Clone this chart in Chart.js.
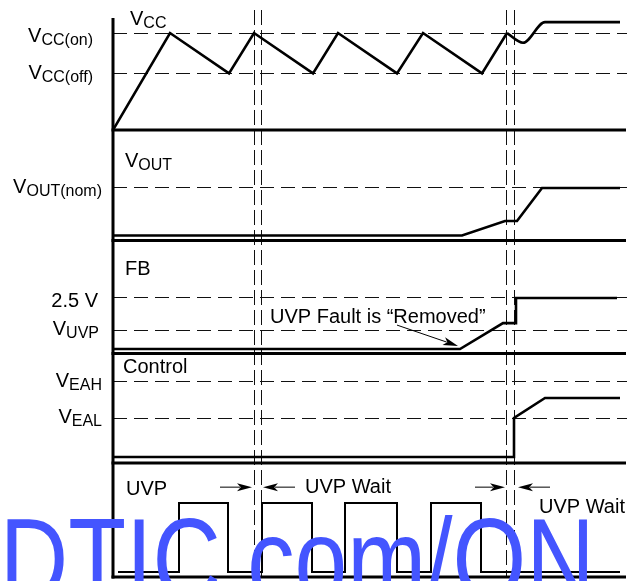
<!DOCTYPE html>
<html><head><meta charset="utf-8">
<script src="https://cdn.jsdelivr.net/npm/chart.js@4.4.1/dist/chart.umd.min.js"></script>
<style>html,body{margin:0;padding:0;background:#fff;}canvas{display:block;}</style>
</head><body>
<canvas id="c" width="631" height="581"></canvas>
<script>
// ===== DATA (time in arbitrary units, levels in each panel's own units) =====
const boundaryTimes = [14.1, 14.8, 39.4, 40.1];

const vccTime  = [0, 5.7, 11.6, 14.1, 20.0, 22.5, 28.4, 31.0, 36.9, 39.4];
const vccLevel = [0, 12, 7, 12, 7, 12, 7, 12, 7, 12];
const vccRecoveryTime  = [39.4, 41.0, 43.2, 50.7];
const vccRecoveryLevel = [12, 10.8, 13.35, 13.35];
const vccThresholds = [12, 7];
const vccThresholdNames = [['V', 'CC(on)'], ['V', 'CC(off)']];

const voutTime  = [0, 34.9, 39.2, 40.4, 42.9, 50.7];
const voutLevel = [0.48, 0.48, 1.86, 1.86, 5, 5];
const voutThresholds = [5];
const voutThresholdNames = [['V', 'OUT(nom)']];

const fbTime  = [0, 34.7, 39.0, 40.3, 40.3, 50.4];
const fbLevel = [0.2, 0.2, 1.37, 1.37, 2.5, 2.5];
const fbThresholds = [2.5, 1.05];
const fbThresholdNames = [['2.5 V', ''], ['V', 'UVP']];

const ctrlTime  = [0, 40.1, 40.1, 43.2, 50.7];
const ctrlLevel = [0.3, 0.3, 2.25, 3.25, 3.25];
const ctrlThresholds = [4.1, 2.25];
const ctrlThresholdNames = [['V', 'EAH'], ['V', 'EAL']];

const uvpTime  = [0.5, 6.6, 6.6, 11.5, 11.5, 14.9, 14.9, 19.9, 19.9, 23.2, 23.2, 28.4, 28.4, 31.8, 31.8, 36.8, 36.8, 50.7];
const uvpLevel = [0, 0, 1, 1, 0, 0, 1, 1, 0, 0, 1, 1, 0, 0, 1, 1, 0, 0];

const panelTitles = [['V', 'CC'], ['V', 'OUT'], ['FB', ''], ['Control', ''], ['UVP', '']];
const annotationText = 'UVP Fault is \u201CRemoved\u201D';
const waitLabel = 'UVP Wait';
const watermarkText = 'www.BDTIC.com/ON';

// annotation anchor points (time, level) in their panels
const fbNote = { t: 15.7, v: 1.37, from: [28.4, 1.28], to: [34.5, 0.34] };
const waitArrows = [[10.7, 13.9], [18.2, 15.0], [36.2, 39.2], [43.7, 40.5]];
const waitArrowLevel = 1.23;
const waitLabelPos = [[19.2, 1.145], [42.6, 0.855]];

// ===== STYLE / LAYOUT =====
const MAIN_FONT = '20px "Liberation Sans", Arial, sans-serif';
const SUB_FONT = '16px "Liberation Sans", Arial, sans-serif';
const SUB_DROP = 3;
const WM = { size: 117, squeeze: 0.81, stemX: 135, baseline: 600, color: '#4455ff' };

const panels = [
  { id: 'yVcc', min: 0, max: 14.85, h: 120, thr: vccThresholds, names: vccThresholdNames, right: [93, 93], dy: [8.5, 6], title: [1.7, 13.0] },
  { id: 'yVout', min: 0, max: 10.52, h: 110.5, thr: voutThresholds, names: voutThresholdNames, right: [102], dy: [5], title: [1.2, 7.0] },
  { id: 'yFb', min: 0, max: 5.09, h: 113, thr: fbThresholds, names: fbThresholdNames, right: [98, 99], dy: [9, 5], title: [1.2, 3.54] },
  { id: 'yCtrl', min: 0, max: 5.475, h: 109.5, thr: ctrlThresholds, names: ctrlThresholdNames, right: [102, 102], dy: [6, 5], title: [1.0, 4.5] },
  { id: 'yUvp', min: -0.072, max: 1.58, h: 114, thr: [], names: [], right: [], dy: [], title: [1.3, 1.12] }
];
const AXIS_TOP_VCC = 13.86; // left axis starts at this VCC level

function pts(ts, vs) { return ts.map((t, i) => ({ x: t, y: vs[i] })); }

const baseDs = { borderColor: '#000', pointRadius: 0, fill: false, tension: 0, borderWidth: 2.6, borderJoinStyle: 'miter', borderCapStyle: 'butt' };
const datasets = [
  Object.assign({}, baseDs, { data: pts(vccTime, vccLevel), yAxisID: 'yVcc' }),
  Object.assign({}, baseDs, { data: pts(vccRecoveryTime, vccRecoveryLevel), yAxisID: 'yVcc', cubicInterpolationMode: 'monotone' }),
  Object.assign({}, baseDs, { data: pts(voutTime, voutLevel), yAxisID: 'yVout' }),
  Object.assign({}, baseDs, { data: pts(fbTime, fbLevel), yAxisID: 'yFb' }),
  Object.assign({}, baseDs, { data: pts(ctrlTime, ctrlLevel), yAxisID: 'yCtrl' }),
  Object.assign({}, baseDs, { data: pts(uvpTime, uvpLevel), yAxisID: 'yUvp', borderWidth: 2 })
];

const scales = {
  x: {
    type: 'linear', position: 'bottom', min: 0, max: 51.4,
    afterBuildTicks: s => { s.ticks = boundaryTimes.map(v => ({ value: v })); },
    ticks: { display: false },
    grid: { color: '#111', lineWidth: 1, drawTicks: false },
    border: { display: false, dash: [15, 5] }
  }
};
panels.forEach((p, i) => {
  scales[p.id] = {
    type: 'linear', position: 'left', stack: 'timing', stackWeight: p.h, weight: 10 - i,
    min: p.min, max: p.max, offset: false,
    afterBuildTicks: s => { s.ticks = p.thr.map(v => ({ value: v })); },
    ticks: { display: false },
    grid: { display: p.thr.length > 0, color: '#111', lineWidth: 1, drawTicks: false },
    border: { display: false, dash: [14, 7] }
  };
});

function drawSub(ctx, main, sub, x, y, align) {
  ctx.font = MAIN_FONT; const w1 = ctx.measureText(main).width;
  ctx.font = SUB_FONT; const w2 = sub ? ctx.measureText(sub).width : 0;
  const x0 = align === 'right' ? x - w1 - w2 : x;
  ctx.textAlign = 'left'; ctx.textBaseline = 'alphabetic';
  ctx.font = MAIN_FONT; ctx.fillText(main, x0, y);
  if (sub) { ctx.font = SUB_FONT; ctx.fillText(sub, x0 + w1, y + SUB_DROP); }
}
function arrow(ctx, x0, y0, x1, y1, len, hw) {
  const a = Math.atan2(y1 - y0, x1 - x0);
  ctx.beginPath(); ctx.moveTo(x0, y0); ctx.lineTo(x1 - Math.cos(a) * len * 0.8, y1 - Math.sin(a) * len * 0.8); ctx.stroke();
  ctx.beginPath();
  ctx.moveTo(x1, y1);
  ctx.lineTo(x1 - Math.cos(a) * len - Math.sin(a) * hw, y1 - Math.sin(a) * len + Math.cos(a) * hw);
  ctx.lineTo(x1 - Math.cos(a) * len * 0.75, y1 - Math.sin(a) * len * 0.75);
  ctx.lineTo(x1 - Math.cos(a) * len + Math.sin(a) * hw, y1 - Math.sin(a) * len - Math.cos(a) * hw);
  ctx.closePath(); ctx.fill();
}

const framePlugin = {
  id: 'frame',
  beforeDatasetsDraw(chart) {
    const { ctx, chartArea: a, scales: S } = chart;
    ctx.save();
    ctx.strokeStyle = '#000'; ctx.lineWidth = 3; ctx.lineCap = 'butt';
    ctx.beginPath(); ctx.moveTo(a.left, S.yVcc.getPixelForValue(AXIS_TOP_VCC)); ctx.lineTo(a.left, a.bottom + 1.5); ctx.stroke();
    panels.forEach(p => {
      const s = S[p.id];
      ctx.beginPath(); ctx.moveTo(a.left - 1.5, s.bottom); ctx.lineTo(a.right - 1, s.bottom); ctx.stroke();
    });
    ctx.restore();
  },
  afterDatasetsDraw(chart) {
    const { ctx, scales: S } = chart;
    const X = S.x;
    ctx.save();
    ctx.fillStyle = '#000'; ctx.strokeStyle = '#000';
    panels.forEach(p => {
      const s = S[p.id];
      p.thr.forEach((v, j) => {
        drawSub(ctx, p.names[j][0], p.names[j][1], p.right[j], s.getPixelForValue(v) + p.dy[j], 'right');
      });
    });
    panels.forEach((p, i) => {
      drawSub(ctx, panelTitles[i][0], panelTitles[i][1], X.getPixelForValue(p.title[0]), S[p.id].getPixelForValue(p.title[1]), 'left');
    });
    // FB annotation
    const fb = S.yFb;
    ctx.font = MAIN_FONT; ctx.textAlign = 'left'; ctx.textBaseline = 'alphabetic';
    ctx.fillText(annotationText, X.getPixelForValue(fbNote.t), fb.getPixelForValue(fbNote.v));
    ctx.lineWidth = 1;
    arrow(ctx, X.getPixelForValue(fbNote.from[0]), fb.getPixelForValue(fbNote.from[1]),
      X.getPixelForValue(fbNote.to[0]), fb.getPixelForValue(fbNote.to[1]), 15, 4);
    // UVP wait arrows
    const u = S.yUvp; const ay = u.getPixelForValue(waitArrowLevel);
    waitArrows.forEach(w => arrow(ctx, X.getPixelForValue(w[0]), ay, X.getPixelForValue(w[1]), ay, 15, 4));
    ctx.font = MAIN_FONT; ctx.textAlign = 'left';
    waitLabelPos.forEach(w => ctx.fillText(waitLabel, X.getPixelForValue(w[0]), u.getPixelForValue(w[1])));
    ctx.restore();
  },
  afterDraw(chart) {
    const ctx = chart.ctx;
    ctx.save();
    ctx.font = WM.size + 'px "Liberation Sans", Arial, sans-serif';
    ctx.fillStyle = WM.color; ctx.textAlign = 'left'; ctx.textBaseline = 'alphabetic';
    const pre = ctx.measureText('www.BDT').width + 0.094 * WM.size;
    ctx.translate(WM.stemX, 0);
    ctx.scale(WM.squeeze, 1);
    ctx.fillText(watermarkText, -pre, WM.baseline);
    ctx.restore();
  }
};

new Chart(document.getElementById('c'), {
  type: 'line',
  data: { datasets },
  options: {
    responsive: false, animation: false, devicePixelRatio: 1, events: [],
    layout: { padding: { left: 113, right: 4, top: 10, bottom: 4 }, autoPadding: false },
    plugins: { legend: { display: false }, tooltip: { enabled: false }, title: { display: false } },
    scales
  },
  plugins: [framePlugin]
});
</script>
</body></html>
